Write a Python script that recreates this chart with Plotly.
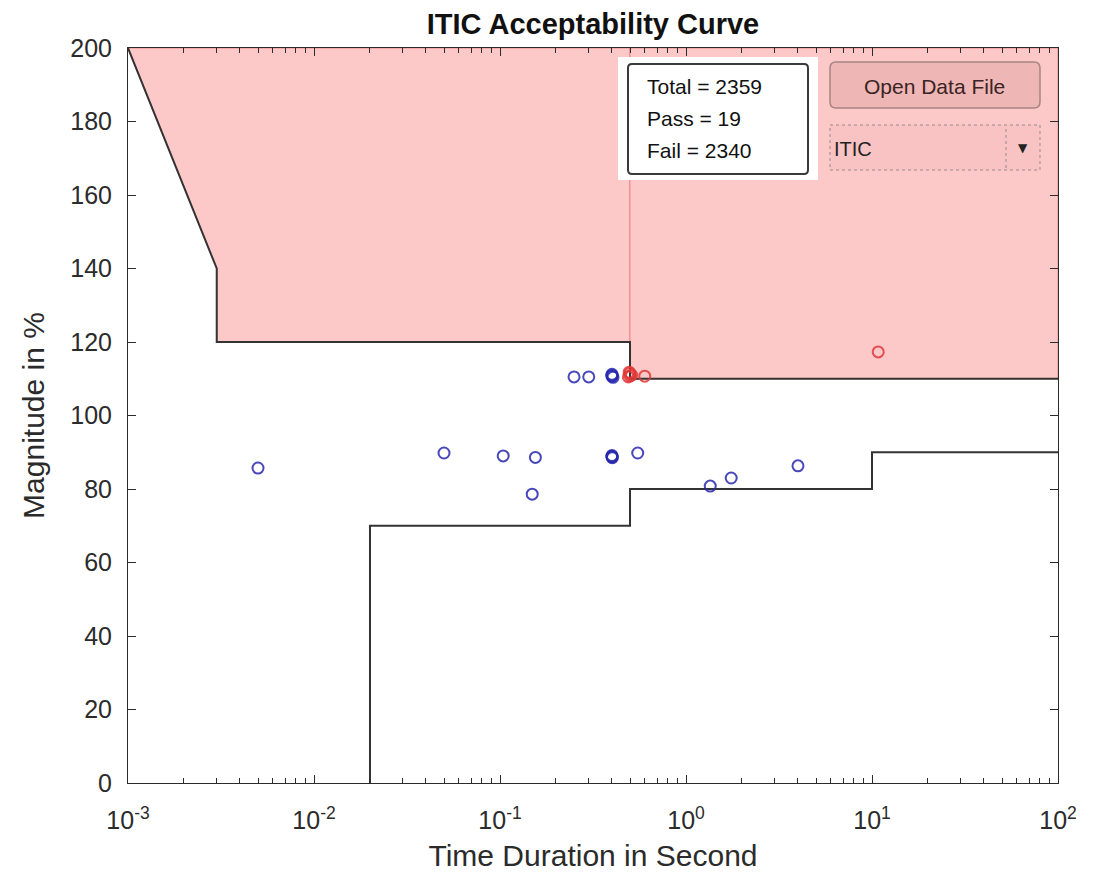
import plotly.graph_objects as go

# ITIC curve data
upper_x = [0.001, 0.003, 0.003, 0.5, 0.5, 100]
upper_y = [200, 140, 120, 120, 110, 110]
lower_x = [0.02, 0.02, 0.5, 0.5, 10, 10, 100]
lower_y = [0, 70, 70, 80, 80, 90, 90]

# Fail-region patches
patch1_x = [0.001, 0.003, 0.003, 0.5, 0.5, 0.001]
patch1_y = [200, 140, 120, 120, 200, 200]
patch2_x = [0.5, 100, 100, 0.5, 0.5]
patch2_y = [110, 110, 200, 200, 110]

# Events
pass_x = [0.005, 0.05, 0.104, 0.155, 0.149, 0.25, 0.30, 0.40, 0.40, 0.405, 0.40,
          0.40, 0.40, 0.402, 0.40, 0.55, 1.35, 1.75, 4.0]
pass_y = [85.7, 89.8, 89.0, 88.6, 78.6, 110.5, 110.5, 110.7, 111.2, 110.4, 110.9,
          88.7, 89.1, 88.5, 88.9, 89.8, 80.8, 83.0, 86.3]
fail_x = [0.49, 0.5, 0.5, 0.51, 0.495, 0.6, 10.8]
fail_y = [110.5, 111.5, 110.8, 111.0, 111.8, 110.7, 117.3]

stats_labels = ["Total = 2359", "Pass = 19", "Fail = 2340"]
x_tickvals = [1e-3, 1e-2, 1e-1, 1e0, 1e1, 1e2]
x_ticktext = ["10<sup>-3</sup>", "10<sup>-2</sup>", "10<sup>-1</sup>",
              "10<sup>0</sup>", "10<sup>1</sup>", "10<sup>2</sup>"]
y_tickvals = list(range(0, 201, 20))

FONT = "Liberation Sans, Arial, sans-serif"
AX = "#2b2b2b"
PINK = "#FDC9C8"

fig = go.Figure()
for px_, py_ in [(patch1_x, patch1_y), (patch2_x, patch2_y)]:
    fig.add_trace(go.Scatter(x=px_, y=py_, mode="lines", fill="toself", fillcolor=PINK,
                             line=dict(color="rgba(230,90,90,0.55)", width=1),
                             hoverinfo="skip", showlegend=False))
fig.add_trace(go.Scatter(x=upper_x, y=upper_y, mode="lines",
                         line=dict(color="#333333", width=2), showlegend=False))
fig.add_trace(go.Scatter(x=lower_x, y=lower_y, mode="lines",
                         line=dict(color="#333333", width=2), showlegend=False))
fig.add_trace(go.Scatter(x=pass_x, y=pass_y, mode="markers",
                         marker=dict(symbol="circle-open", size=11,
                                     color="rgba(40,40,175,0.85)", line=dict(width=2)),
                         showlegend=False))
fig.add_trace(go.Scatter(x=fail_x, y=fail_y, mode="markers",
                         marker=dict(symbol="circle-open", size=11,
                                     color="rgba(225,55,55,0.85)", line=dict(width=2)),
                         showlegend=False))

# page has an 8px body margin; figure is sized so page == 1100x880
OFF = 8
W, H = 1100 - 2 * OFF, 880 - 2 * OFF
PL, PR, PT, PB = 128, 1058, 48, 783          # plot area in page pixels
L, R, T, B = PL - OFF, W - (PR - OFF), PT - OFF, H - (PB - OFF)
pw, ph = PR - PL, PB - PT


def px(x):
    return (x - PL) / pw


def py(y):
    return (PB - y) / ph


def rrect(x0, y0, x1, y1, r):
    rx, ry = r / pw, r / ph
    X0, X1, Y0, Y1 = px(x0), px(x1), py(y1), py(y0)
    return (f"M{X0+rx},{Y0} L{X1-rx},{Y0} Q{X1},{Y0} {X1},{Y0+ry} L{X1},{Y1-ry} "
            f"Q{X1},{Y1} {X1-rx},{Y1} L{X0+rx},{Y1} Q{X0},{Y1} {X0},{Y1-ry} "
            f"L{X0},{Y0+ry} Q{X0},{Y0} {X0+rx},{Y0} Z")


shapes = [
    dict(type="rect", xref="paper", yref="paper", x0=px(618), x1=px(818), y0=py(180), y1=py(57),
         fillcolor="white", line=dict(width=0), layer="above"),
    dict(type="path", xref="paper", yref="paper", path=rrect(628, 64, 808, 174, 4),
         fillcolor="white", line=dict(color="#3a3a3a", width=2), layer="above"),
    dict(type="path", xref="paper", yref="paper", path=rrect(830, 62, 1040, 108, 6),
         fillcolor="#EEB6B4", line=dict(color="#A88484", width=1.5), layer="above"),
    dict(type="rect", xref="paper", yref="paper", x0=px(830), x1=px(1040), y0=py(170), y1=py(125),
         fillcolor="#F8C3C2", line=dict(color="#9a8a8a", width=1, dash="dot"), layer="above"),
    dict(type="line", xref="paper", yref="paper", x0=px(1006), x1=px(1006), y0=py(168), y1=py(127),
         line=dict(color="#9a8a8a", width=1, dash="dot"), layer="above"),
]

annotations = []
for i, t in enumerate(stats_labels):
    annotations.append(dict(text=t, xref="paper", yref="paper", x=px(645), y=py(86 + 32 * i),
                            xanchor="left", yanchor="middle", showarrow=False,
                            font=dict(family=FONT, size=21, color="#111111")))
annotations.append(dict(text="Open Data File", xref="paper", yref="paper", x=px(934), y=py(87),
                        xanchor="center", yanchor="middle", showarrow=False,
                        font=dict(family=FONT, size=21, color="#3a2424")))
annotations.append(dict(text="ITIC", xref="paper", yref="paper", x=px(832), y=py(149),
                        xanchor="left", yanchor="middle", showarrow=False,
                        font=dict(family=FONT, size=20, color="#222222")))
annotations.append(dict(text="▼", xref="paper", yref="paper", x=px(1023), y=py(148),
                        xanchor="center", yanchor="middle", showarrow=False,
                        font=dict(family="DejaVu Sans", size=12, color="#222222")))

axis_common = dict(showline=True, linecolor=AX, linewidth=1, mirror="ticks", ticks="inside",
                   tickcolor=AX, ticklen=8, tickwidth=1, showgrid=False, zeroline=False,
                   automargin=False,
                   tickfont=dict(family=FONT, size=25, color=AX))

fig.update_layout(
    width=W, height=H,
    margin=dict(l=L, r=R, t=T, b=B),
    plot_bgcolor="white", paper_bgcolor="white",
    title=dict(text="<b>ITIC Acceptability Curve</b>", x=(593 - OFF) / W, xanchor="center",
               y=1 - (24 - OFF) / H, yanchor="middle",
               font=dict(family=FONT, size=29, color="#111111")),
    xaxis=dict(type="log", range=[-3, 2], tickvals=x_tickvals, ticktext=x_ticktext,
               ticklabelstandoff=15,
               minor=dict(ticks="inside", ticklen=5, tickcolor=AX,
                          tickvals=[k * 10.0 ** e for e in range(-3, 2) for k in range(2, 10)]),
               title=dict(text="Time Duration in Second", standoff=14,
                          font=dict(family=FONT, size=30, color=AX)),
               **axis_common),
    yaxis=dict(range=[0, 200], tickvals=y_tickvals, ticklabelstandoff=10,
               title=dict(text="Magnitude in %", standoff=16,
                          font=dict(family=FONT, size=30, color=AX)),
               **axis_common),
    shapes=shapes, annotations=annotations,
)

fig.write_html("out.html")
